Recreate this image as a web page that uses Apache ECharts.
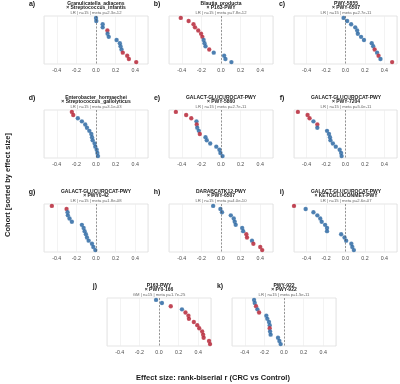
<!DOCTYPE html>
<html><head><meta charset="utf-8">
<script src="https://cdn.jsdelivr.net/npm/echarts@6/dist/echarts.min.js"></script>
<style>html,body{margin:0;padding:0;background:#fff}#c{width:400px;height:384px}</style>
</head><body><div id="c"></div>
<script>
// ---- data (rank-biserial r per cohort, sorted; sig: 1 = red, 0 = blue) ----
const labels = ['a)','b)','c)','d)','e)','f)','g)','h)','i)','j)','k)'];
const titles1 = ['Granulicatella_adiacens','Blautia_producta','PWY-5855','Enterobacter_hormaechei','GALACT-GLUCUROCAT-PWY','GALACT-GLUCUROCAT-PWY','GALACT-GLUCUROCAT-PWY','DARABCATK12-PWY','GALACT-GLUCUROCAT-PWY','P163-PWY','PWY-922'];
const titles2 = ['× Streptococcus_infantis','× P163-PWY','× PWY-6507','× Streptococcus_gallolyticus','× PWY-5860','× PWY-7204','× PWY0-42','× PWY-6507','× KETOGLUCONMET-PWY','× PWY0-166','× PWY-922'];
const subtitles = ['LR | n=15 | meta p=2.3e-12','LR | n=15 | meta p=7.8e-12','LR | n=15 | meta p=2.7e-11','LR | n=15 | meta p=3.1e-03','LR | n=15 | meta p=2.7e-11','LR | n=15 | meta p=5.0e-11','LR | n=15 | meta p=1.8e-08','LR | n=15 | meta p=4.0e-10','LR | n=15 | meta p=2.6e-07','GM | n=15 | meta p=1.7e-25','LR | n=15 | meta p=1.5e-11'];

const valsA = [0.0, 0.003, 0.068, 0.068, 0.116, 0.118, 0.13, 0.21, 0.243, 0.25, 0.26, 0.273, 0.318, 0.335, 0.41];
const sigA  = [0,0,0,0,1,0,0,0,0,0,0,1,1,1,1];
const valsB = [-0.41,-0.33,-0.28,-0.265,-0.232,-0.203,-0.19,-0.177,-0.168,-0.158,-0.12,-0.074,0.032,0.045,0.106];
const sigB  = [1,1,1,1,1,1,1,0,0,0,1,0,0,0,0];
const valsC = [-0.02,0.017,0.058,0.1,0.12,0.127,0.16,0.19,0.27,0.285,0.30,0.325,0.34,0.36,0.48];
const sigC  = [0,0,0,0,0,0,0,0,0,0,1,0,1,0,1];
const valsD = [-0.246,-0.232,-0.185,-0.144,-0.11,-0.092,-0.068,-0.048,-0.041,-0.034,-0.014,-0.007,0.007,0.014,0.02];
const sigD  = [1,1,0,0,0,0,0,0,0,0,0,0,0,0,0];
const valsE = [-0.46,-0.355,-0.303,-0.25,-0.247,-0.242,-0.226,-0.216,-0.158,-0.145,-0.11,-0.048,-0.016,-0.006,0.016];
const sigE  = [1,1,1,0,1,0,0,1,0,0,0,0,0,0,0];
const valsF = [-0.49,-0.39,-0.37,-0.33,-0.29,-0.29,-0.19,-0.17,-0.16,-0.155,-0.13,-0.10,-0.06,-0.045,-0.04];
const sigF  = [1,1,1,0,1,0,0,0,0,0,0,0,0,0,0];
const valsG = [-0.45,-0.30,-0.29,-0.287,-0.27,-0.246,-0.144,-0.126,-0.116,-0.103,-0.092,-0.075,-0.041,-0.027,-0.007];
const sigG  = [1,1,0,0,0,0,0,0,0,0,0,0,0,0,0];
const valsH = [-0.08,-0.006,0.01,0.10,0.13,0.14,0.15,0.216,0.226,0.258,0.265,0.316,0.33,0.40,0.42];
const sigH  = [0,0,0,0,0,0,0,0,0,1,1,0,1,1,1];
const valsI = [-0.53,-0.41,-0.33,-0.29,-0.26,-0.245,-0.21,-0.19,-0.19,-0.045,-0.01,0.007,0.06,0.07,0.086];
const sigI  = [1,0,0,0,0,0,0,0,0,0,0,0,0,0,0];
const valsJ = [-0.03,0.03,0.12,0.234,0.27,0.30,0.305,0.355,0.39,0.41,0.44,0.45,0.455,0.51,0.52];
const sigJ  = [0,0,1,0,1,1,1,1,1,1,1,1,1,1,1];
const valsK = [-0.305,-0.298,-0.285,-0.271,-0.254,-0.18,-0.17,-0.153,-0.146,-0.146,-0.142,-0.136,-0.061,-0.047,-0.034];
const sigK  = [0,0,1,0,1,0,0,0,0,1,0,0,0,0,0];

const allVals = [valsA,valsB,valsC,valsD,valsE,valsF,valsG,valsH,valsI,valsJ,valsK];
const allSig  = [sigA,sigB,sigC,sigD,sigE,sigF,sigG,sigH,sigI,sigJ,sigK];
const xTitle = 'Effect size: rank-biserial r (CRC vs Control)';
const yTitle = 'Cohort [sorted by effect size]';

// ---- layout ----
const W = 104, H = 48;
const lefts = [44,169,294, 44,169,294, 44,169,294, 107,232];
const tops  = [16,16,16, 110,110,110, 204,204,204, 298,298];
const XR = 0.53;
const BLUE = '#1f5f9e', RED = '#b2182b';
const FONT = 'Liberation Sans, Arial, sans-serif';

const grid = [], xAxis = [], yAxis = [], series = [], graphic = [];
for (let i = 0; i < 11; i++) {
  const L = lefts[i], T = tops[i];
  grid.push({left: L, top: T, width: W, height: H, show: true, borderColor: '#d4d4d4', borderWidth: 0.6, backgroundColor: '#fff'});
  xAxis.push({
    type: 'value', gridIndex: i, min: -XR, max: XR, splitNumber: 5,
    axisLine: {show: false}, axisTick: {show: false},
    splitLine: {show: true, lineStyle: {color: '#ebebeb', width: 0.6}},
    axisLabel: {fontSize: 5.3, color: '#4d4d4d', margin: 4, fontFamily: FONT,
      formatter: v => (Math.abs(v) > 0.45 ? '' : (Math.abs(v) < 1e-9 ? '0.0' : v.toFixed(1)))}
  });
  yAxis.push({type: 'value', gridIndex: i, min: 0.4, max: 15.6, inverse: true, show: false, splitLine: {show: false}});
  const vals = allVals[i], sig = allSig[i];
  series.push({
    type: 'scatter', xAxisIndex: i, yAxisIndex: i, symbol: 'circle', symbolSize: 4.4,
    data: vals.map((v, k) => ({value: [v, k + 1], itemStyle: {color: sig[k] ? RED : BLUE}})),
    itemStyle: {borderColor: 'rgba(255,255,255,0.5)', borderWidth: 0.3},
    z: 3,
    markLine: {silent: true, symbol: 'none', label: {show: false},
      lineStyle: {type: [2, 1.5], color: '#555', width: 0.6},
      data: [{xAxis: 0}], animation: false}
  });
  const cx = L + W / 2;
  graphic.push({type: 'text', x: L - 12, y: T - 11.5, style: {text: labels[i], font: 'bold 7px ' + FONT, fill: '#1a1a1a', align: 'center', verticalAlign: 'middle'}});
  graphic.push({type: 'text', x: cx, y: T - 12.8, style: {text: titles1[i], font: 'bold 5px ' + FONT, fill: '#1a1a1a', align: 'center', verticalAlign: 'middle'}});
  graphic.push({type: 'text', x: cx, y: T - 8.6, style: {text: titles2[i], font: 'bold 5px ' + FONT, fill: '#1a1a1a', align: 'center', verticalAlign: 'middle'}});
  graphic.push({type: 'text', x: cx, y: T - 3.6, style: {text: subtitles[i], font: '4.2px ' + FONT, fill: '#666', align: 'center', verticalAlign: 'middle'}});
}
graphic.push({type: 'text', x: 213, y: 378, style: {text: xTitle, font: 'bold 7.5px ' + FONT, fill: '#1a1a1a', align: 'center', verticalAlign: 'middle'}});
graphic.push({type: 'text', x: 8, y: 185, rotation: Math.PI / 2, style: {text: yTitle, font: 'bold 7.5px ' + FONT, fill: '#1a1a1a', align: 'center', verticalAlign: 'middle'}});

const chart = echarts.init(document.getElementById('c'), null, {renderer: 'canvas'});
chart.setOption({animation: false, backgroundColor: '#fff', grid, xAxis, yAxis, series, graphic});
</script></body></html>
